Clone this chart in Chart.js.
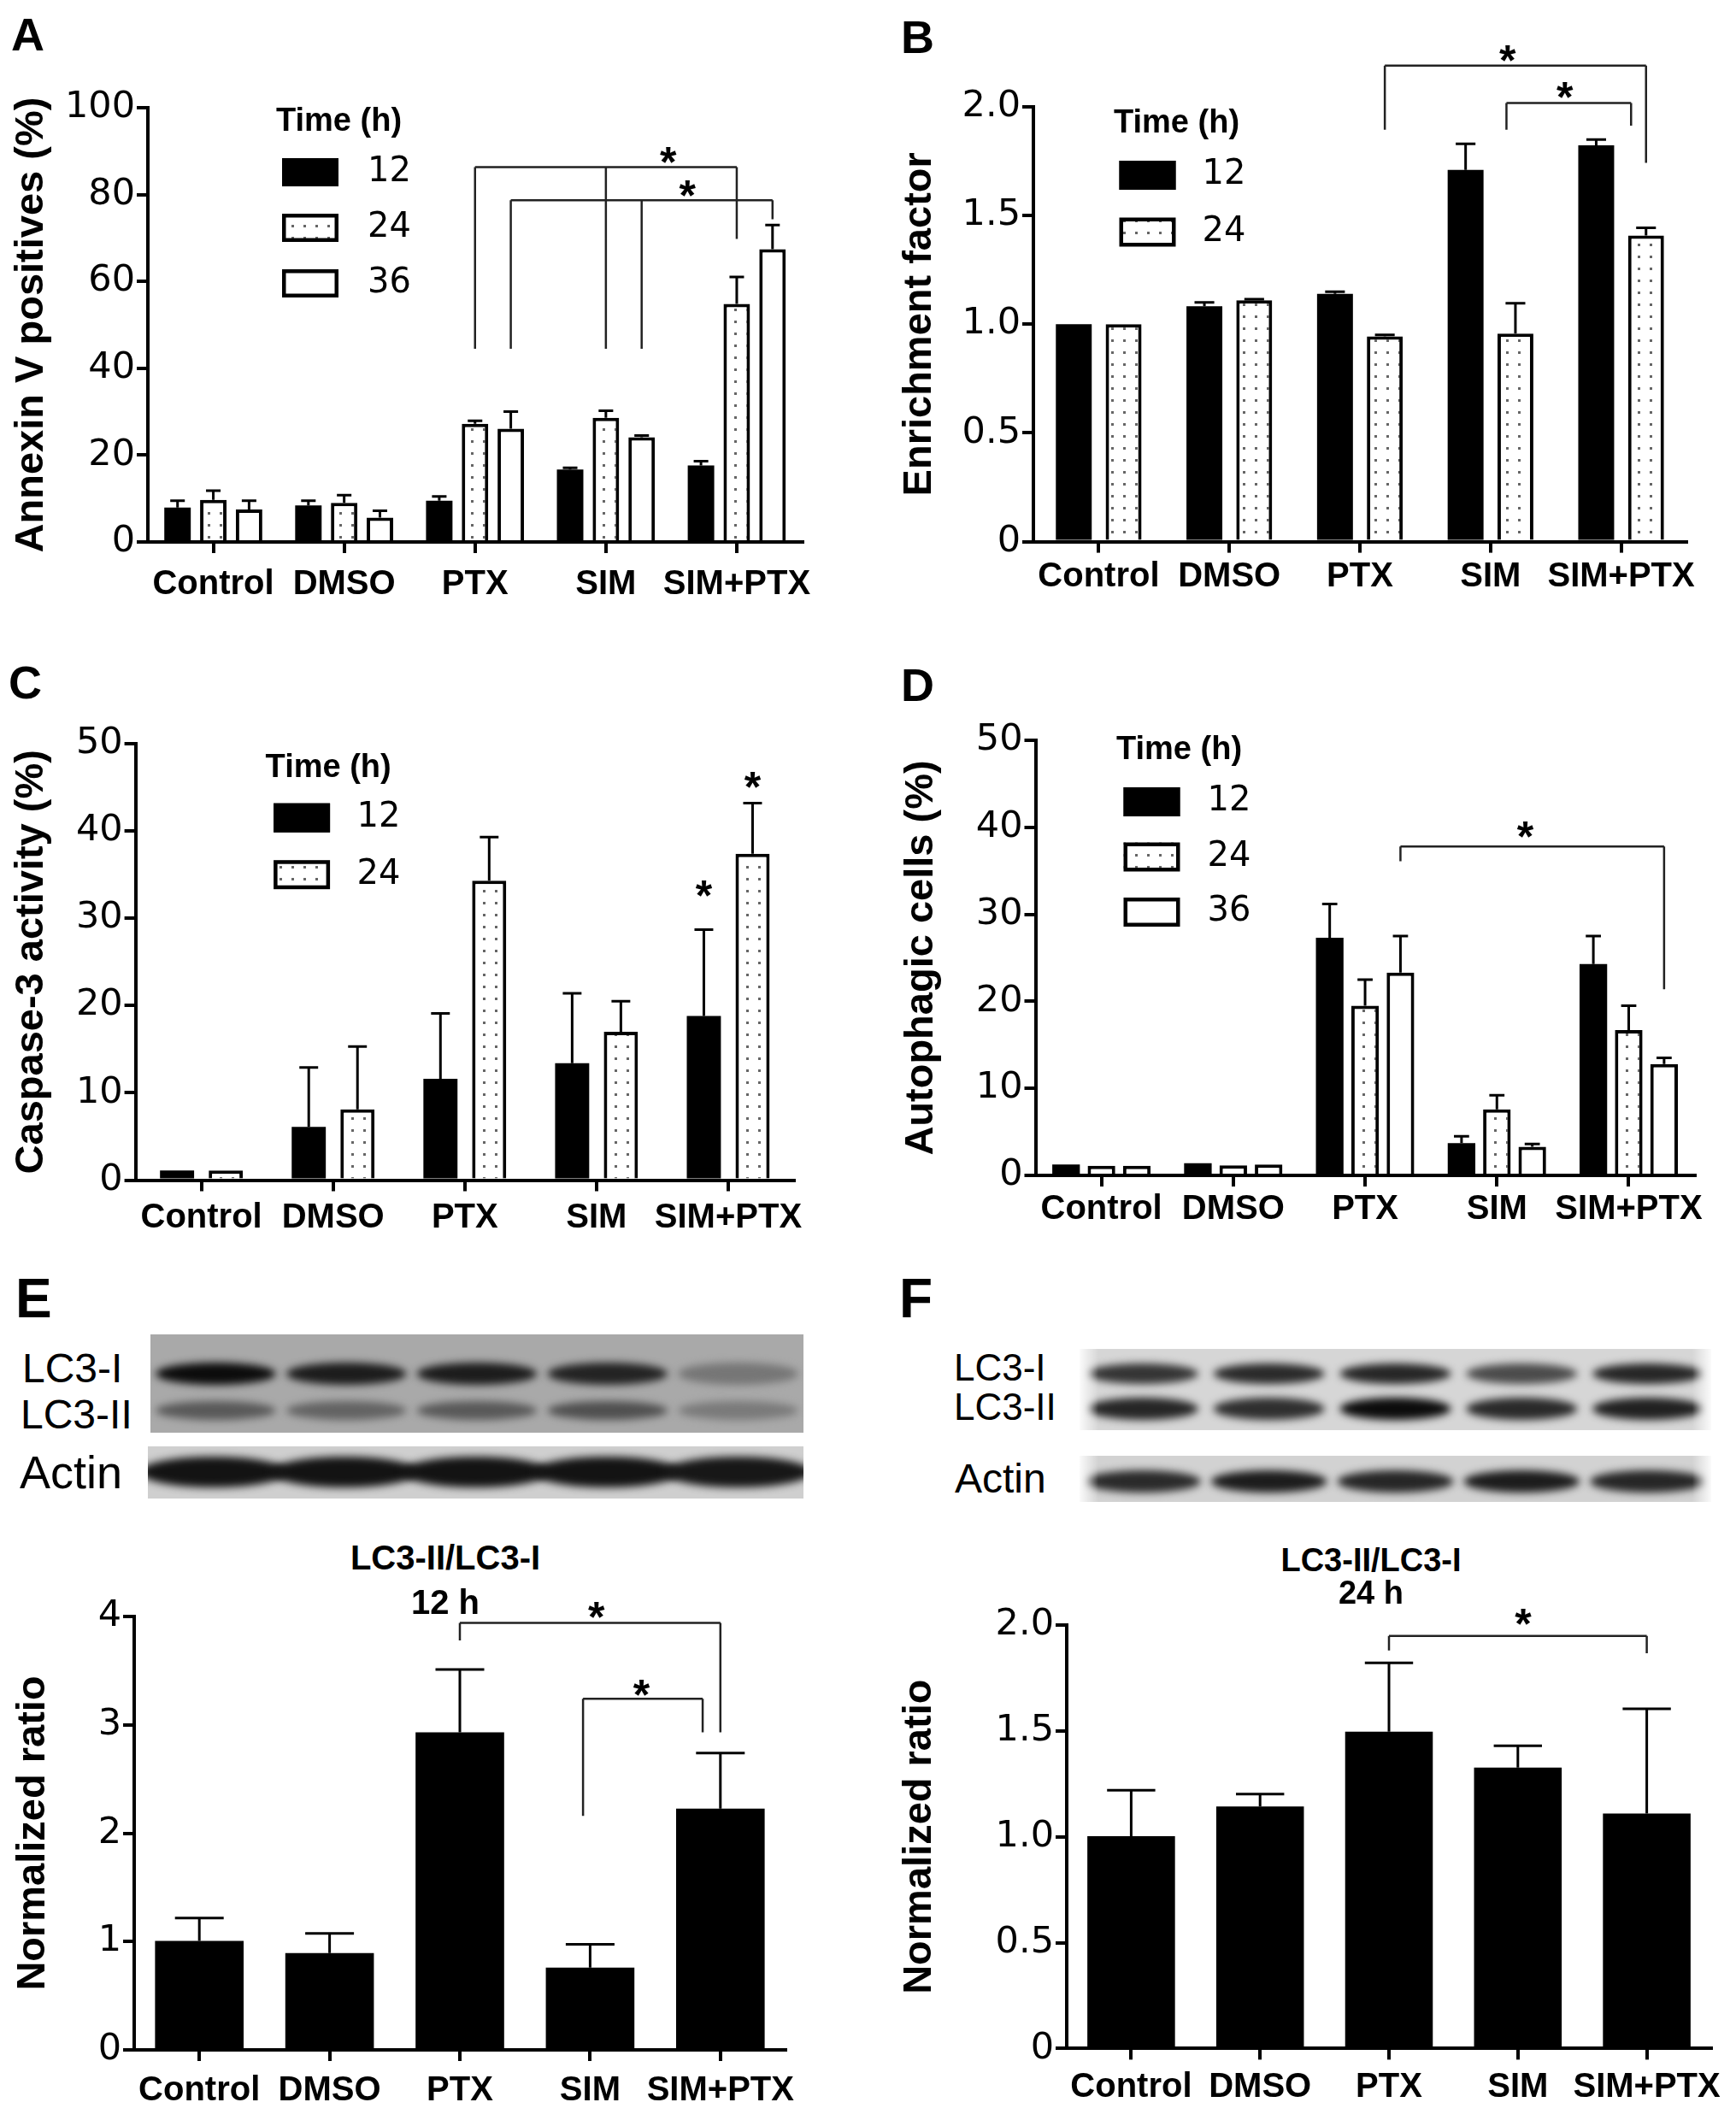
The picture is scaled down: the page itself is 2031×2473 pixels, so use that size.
<!DOCTYPE html>
<html>
<head>
<meta charset="utf-8">
<script src="https://cdn.jsdelivr.net/npm/chart.js@4.4.1/dist/chart.umd.min.js"></script>
<style>
body { margin: 0; background: #fff; }
#fig { position: relative; width: 2031px; height: 2473px; overflow: hidden; background: #fff; }
canvas { position: absolute; }
.lbl { position: absolute; line-height: 1; white-space: nowrap; color: #000; font-family: 'Liberation Sans', Arial, sans-serif; }
.panel { font-weight: bold; font-size: 54px; }
.panel2 { font-weight: bold; font-size: 64px; }
.sub { font-weight: bold; width: 400px; text-align: center; }
</style>
</head>
<body>
<div id="fig">
  <div class="lbl panel" style="left:13px;top:13px">A</div>
  <div class="lbl panel" style="left:1054px;top:16px">B</div>
  <div class="lbl panel" style="left:10px;top:771px">C</div>
  <div class="lbl panel" style="left:1054px;top:774px">D</div>
  <div class="lbl panel2" style="left:18px;top:1487px">E</div>
  <div class="lbl panel2" style="left:1052px;top:1487px">F</div>

  <canvas id="chartA" width="1000" height="650" style="left:0;top:90px"></canvas>
  <canvas id="chartB" width="1016" height="740" style="left:1015px;top:0"></canvas>
  <canvas id="chartC" width="1000" height="640" style="left:0;top:840px"></canvas>
  <canvas id="chartD" width="1016" height="640" style="left:1015px;top:840px"></canvas>
  <canvas id="chartE" width="1000" height="613" style="left:0;top:1860px"></canvas>
  <canvas id="chartF" width="1016" height="613" style="left:1015px;top:1860px"></canvas>

  <canvas id="blotE1" width="764" height="115" style="left:176px;top:1561px"></canvas>
  <canvas id="blotE2" width="767" height="61" style="left:173px;top:1692px"></canvas>
  <canvas id="blotF1" width="739" height="95" style="left:1263px;top:1578px"></canvas>
  <canvas id="blotF2" width="739" height="54" style="left:1263px;top:1703px"></canvas>

  <div class="lbl" style="left:26px;top:1577px;font-size:48px">LC3-I</div>
  <div class="lbl" style="left:24px;top:1631px;font-size:48px">LC3-II</div>
  <div class="lbl" style="left:23px;top:1695px;font-size:54px">Actin</div>
  <div class="lbl" style="left:1116px;top:1578px;font-size:44px">LC3-I</div>
  <div class="lbl" style="left:1116px;top:1624px;font-size:44px">LC3-II</div>
  <div class="lbl" style="left:1117px;top:1706px;font-size:48px">Actin</div>

  <div class="lbl sub" style="left:321px;top:1802px;font-size:40px">LC3-II/LC3-I</div>
  <div class="lbl sub" style="left:321px;top:1854px;font-size:40px">12 h</div>
  <div class="lbl sub" style="left:1404px;top:1806px;font-size:38px">LC3-II/LC3-I</div>
  <div class="lbl sub" style="left:1404px;top:1844px;font-size:38px">24 h</div>
</div>
<script>
const categories = ['Control', 'DMSO', 'PTX', 'SIM', 'SIM+PTX'];
const timeLabels = ['12', '24', '36'];
const legendTitle = 'Time (h)';

// A - Annexin V positives (%)
const annexin12 = [7.9, 8.4, 9.5, 16.7, 17.6];
const annexin24 = [9.7, 9.0, 27.2, 28.6, 54.8];
const annexin36 = [7.5, 5.6, 26.1, 24.1, 67.4];
const annexin12Err = [9.5, 9.5, 10.5, 17.1, 18.6];
const annexin24Err = [11.8, 10.8, 27.9, 30.2, 61.0];
const annexin36Err = [9.5, 7.2, 30.0, 24.5, 73.0];
const ticksA = ['0', '20', '40', '60', '80', '100'];

// B - Enrichment factor
const enrich12 = [1.0, 1.083, 1.14, 1.71, 1.823];
const enrich24 = [1.0, 1.11, 0.944, 0.957, 1.408];
const enrich12Err = [null, 1.10, 1.15, 1.83, 1.85];
const enrich24Err = [null, 1.115, 0.951, 1.097, 1.444];
const ticksB = ['0', '0.5', '1.0', '1.5', '2.0'];

// C - Caspase-3 activity (%)
const caspase12 = [1.1, 6.1, 11.6, 13.4, 18.8];
const caspase24 = [1.1, 8.1, 34.3, 17.0, 37.4];
const caspase12Err = [null, 12.9, 19.1, 21.4, 28.7];
const caspase24Err = [null, 15.3, 39.3, 20.5, 43.2];
const ticksC = ['0', '10', '20', '30', '40', '50'];

// D - Autophagic cells (%)
const autophagic12 = [1.25, 1.4, 27.3, 3.7, 24.3];
const autophagic24 = [1.1, 1.15, 19.5, 7.6, 16.7];
const autophagic36 = [1.1, 1.25, 23.3, 3.3, 12.8];
const autophagic12Err = [null, null, 31.2, 4.5, 27.5];
const autophagic24Err = [null, null, 22.5, 9.2, 19.5];
const autophagic36Err = [null, null, 27.5, 3.6, 13.5];
const ticksD = ['0', '10', '20', '30', '40', '50'];

// E - LC3-II/LC3-I 12 h
const ratio12h = [1.005, 0.894, 2.93, 0.759, 2.226];
const ratio12hErr = [1.216, 1.075, 3.51, 0.975, 2.739];
const ticksE = ['0', '1', '2', '3', '4'];

// F - LC3-II/LC3-I 24 h
const ratio24h = [1.003, 1.143, 1.496, 1.327, 1.11];
const ratio24hErr = [1.22, 1.202, 1.821, 1.43, 1.604];
const ticksF = ['0', '0.5', '1.0', '1.5', '2.0'];

// significance marks: legs are [category, bar offset, bottom value], star is [category, bar offset, value]
const bracketsA = [
  { y: 86.3, legs: [[2, 0, 44.5], [3, 0, 44.5], [4, 0, 69.8]], star: [3, 1.74, 89.6] },
  { y: 78.7, legs: [[2, 1, 44.5], [3, 1, 44.5], [4, 1, 74.3]], star: [3, 2.28, 81.8] }
];
const bracketsB = [
  { y: 2.19, legs: [[2, 0.5, 1.895], [4, 0.5, 1.742]], star: [3, 0.34, 2.256] },
  { y: 2.018, legs: [[3, 0.32, 1.895], [4, 0.2, 1.913]], star: [3, 1.49, 2.085] }
];
const starsC = [[4, -0.5, 33.6], [4, 0.5, 46.1]];
const bracketsD = [
  { y: 37.8, legs: [[2, 1, 36.1], [4, 1, 21.4]], star: [3, 0.8, 40] }
];
const bracketsE = [
  { y: 3.94, legs: [[2, 0, 3.78], [4, 0, 2.93]], star: [3, 0.07, 4.08] },
  { y: 3.24, legs: [[3, -0.08, 2.16], [4, -0.2, 2.93]], star: [3, 0.58, 3.36] }
];
const bracketsF = [
  { y: 1.949, legs: [[2, 0, 1.88], [4, 0, 1.867]], star: [3, 0.06, 2.05] }
];

// band strength per lane for the blot pictures
const bandsE_LC3I = [0.95, 0.88, 0.88, 0.85, 0.5];
const bandsE_LC3II = [0.62, 0.58, 0.62, 0.66, 0.48];
const bandsE_actin = [0.92, 0.92, 0.92, 0.92, 0.9];
const bandsF_LC3I = [0.78, 0.82, 0.84, 0.68, 0.84];
const bandsF_LC3II = [0.84, 0.8, 0.95, 0.82, 0.86];
const bandsF_actin = [0.82, 0.88, 0.84, 0.88, 0.84];

const SANS = "'Liberation Sans', Arial, sans-serif";
const TICKFONT = "'DejaVu Sans', sans-serif";

function dotPattern(ctx) {
  const t = document.createElement('canvas');
  t.width = 14; t.height = 14;
  const g = t.getContext('2d');
  g.fillStyle = '#fff';
  g.fillRect(0, 0, 14, 14);
  g.fillStyle = '#666';
  g.fillRect(5, 5, 3, 3);
  return ctx.createPattern(t, 'repeat');
}

const errorBarPlugin = {
  id: 'errorBars',
  afterDatasetsDraw(chart) {
    const ctx = chart.ctx, ys = chart.scales.y;
    chart.data.datasets.forEach((ds, di) => {
      chart.getDatasetMeta(di).data.forEach((bar, i) => {
        const e = ds.errorBars ? ds.errorBars[i] : null;
        if (e == null) return;
        const top = ys.getPixelForValue(e);
        const cap = bar.width * 0.55;
        ctx.save();
        ctx.strokeStyle = '#000';
        ctx.lineWidth = 3;
        ctx.beginPath();
        ctx.moveTo(bar.x, bar.y);
        ctx.lineTo(bar.x, top);
        ctx.moveTo(bar.x - cap / 2, top);
        ctx.lineTo(bar.x + cap / 2, top);
        ctx.stroke();
        ctx.restore();
      });
    });
  }
};

function sigPlugin(brackets, stars) {
  return {
    id: 'sigMarks',
    afterDatasetsDraw(chart) {
      const ctx = chart.ctx, xs = chart.scales.x, ys = chart.scales.y;
      const m0 = chart.getDatasetMeta(0).data;
      const pitch = chart.data.datasets.length > 1
        ? chart.getDatasetMeta(1).data[0].x - m0[0].x
        : m0[0].width;
      const px = (c, p) => xs.getPixelForValue(c) + p * pitch;
      const star = s => {
        ctx.font = 'bold 50px ' + SANS;
        ctx.textAlign = 'center';
        ctx.textBaseline = 'alphabetic';
        ctx.fillStyle = '#000';
        ctx.fillText('*', px(s[0], s[1]), ys.getPixelForValue(s[2]) + 28);
      };
      ctx.save();
      ctx.strokeStyle = '#222';
      ctx.lineWidth = 2.5;
      brackets.forEach(b => {
        const yy = ys.getPixelForValue(b.y);
        const xx = b.legs.map(l => px(l[0], l[1]));
        ctx.beginPath();
        ctx.moveTo(Math.min(...xx), yy);
        ctx.lineTo(Math.max(...xx), yy);
        b.legs.forEach((l, k) => {
          ctx.moveTo(xx[k], yy);
          ctx.lineTo(xx[k], ys.getPixelForValue(l[2]));
        });
        ctx.stroke();
        star(b.star);
      });
      stars.forEach(star);
      ctx.restore();
    }
  };
}

function legendPlugin(L) {
  return {
    id: 'timeLegend',
    afterDraw(chart) {
      const ca = chart.chartArea, ctx = chart.ctx;
      ctx.save();
      ctx.textAlign = 'left';
      ctx.textBaseline = 'middle';
      ctx.fillStyle = '#000';
      ctx.font = 'bold 38px ' + SANS;
      ctx.fillText(legendTitle, ca.left + L.titleX, ca.top + L.titleY);
      chart.data.datasets.forEach((ds, i) => {
        const bx = ca.left + L.boxX, by = ca.top + L.boxY + i * L.gap;
        ctx.fillStyle = ds.backgroundColor;
        ctx.fillRect(bx, by, 66, L.boxH);
        ctx.strokeStyle = '#000';
        ctx.lineWidth = 4.5;
        ctx.strokeRect(bx + 2.25, by + 2.25, 66 - 4.5, L.boxH - 4.5);
        ctx.fillStyle = '#000';
        ctx.font = '40px ' + TICKFONT;
        ctx.fillText(ds.label, ca.left + L.labelX, by + L.boxH / 2);
      });
      ctx.restore();
    }
  };
}

function barChart(id, o) {
  const ctx = document.getElementById(id).getContext('2d');
  const fills = { solid: '#000', dots: dotPattern(ctx), open: '#fff' };
  const plugins = [errorBarPlugin, sigPlugin(o.brackets || [], o.stars || [])];
  if (o.legend) plugins.push(legendPlugin(o.legend));
  return new Chart(ctx, {
    type: 'bar',
    data: {
      labels: categories,
      datasets: o.series.map(s => ({
        label: s.label,
        data: s.data,
        errorBars: s.err,
        backgroundColor: fills[s.style],
        borderColor: '#000',
        borderWidth: s.style === 'solid' ? 0 : 4,
        categoryPercentage: o.catPct,
        barPercentage: o.barPct
      }))
    },
    options: {
      responsive: false,
      animation: false,
      devicePixelRatio: 1,
      layout: { padding: { top: o.box.top, right: o.box.right, left: 0, bottom: 0 } },
      plugins: { legend: { display: false }, tooltip: { enabled: false } },
      scales: {
        x: {
          z: 1,
          grid: { offset: false, drawOnChartArea: false, drawTicks: true, tickLength: 13, color: '#000', lineWidth: 4 },
          border: { display: true, color: '#000', width: 4 },
          ticks: { color: '#000', padding: o.box.xPad, maxRotation: 0, autoSkip: false,
                   font: { family: SANS, weight: 'bold', size: 40 } },
          afterFit: s => { s.height = o.box.xH; s.paddingLeft = 0; s.paddingRight = 0; }
        },
        y: {
          z: 1,
          min: 0,
          max: o.yMax,
          ticks: { stepSize: o.yStep, color: '#000', padding: 2,
                   font: { family: TICKFONT, size: 43 },
                   callback: (v, i) => o.yLabels[i] },
          grid: { drawOnChartArea: false, drawTicks: true, tickLength: 13, color: '#000', lineWidth: 4 },
          border: { display: true, color: '#000', width: 4 },
          title: { display: true, text: o.yTitle, color: '#000',
                   font: { family: SANS, weight: 'bold', size: 47 },
                   padding: { top: o.box.titlePad, bottom: 0 } },
          afterFit: s => { s.width = o.box.yW; s.paddingTop = 0; s.paddingBottom = 0; }
        }
      }
    },
    plugins: plugins
  });
}

function drawBlot(id, bg, rows, edgeFade) {
  const c = document.getElementById(id), g = c.getContext('2d');
  const w = c.width, h = c.height, lane = w / 5;
  g.fillStyle = bg;
  g.fillRect(0, 0, w, h);
  g.filter = 'blur(5px)';
  rows.forEach(r => {
    r.levels.forEach((v, i) => {
      const shade = Math.round(235 * (1 - v));
      g.fillStyle = 'rgb(' + shade + ',' + shade + ',' + shade + ')';
      g.beginPath();
      g.ellipse(lane * (i + 0.5), r.y, lane * r.spread, r.h / 2, 0, 0, Math.PI * 2);
      g.fill();
    });
  });
  g.filter = 'none';
  if (edgeFade) {
    const lg = g.createLinearGradient(0, 0, w, 0);
    lg.addColorStop(0, 'rgba(255,255,255,0.9)');
    lg.addColorStop(0.03, 'rgba(255,255,255,0)');
    lg.addColorStop(0.97, 'rgba(255,255,255,0)');
    lg.addColorStop(1, 'rgba(255,255,255,0.9)');
    g.fillStyle = lg;
    g.fillRect(0, 0, w, h);
  }
}

barChart('chartA', {
  series: [
    { label: timeLabels[0], data: annexin12, err: annexin12Err, style: 'solid' },
    { label: timeLabels[1], data: annexin24, err: annexin24Err, style: 'dots' },
    { label: timeLabels[2], data: annexin36, err: annexin36Err, style: 'open' }
  ],
  yMax: 100, yStep: 20, yLabels: ticksA, yTitle: 'Annexin V positives (%)',
  catPct: 0.82, barPct: 0.74,
  box: { yW: 173, top: 36, right: 61.5, xH: 106, xPad: 13, titlePad: 9 },
  legend: { titleX: 150, titleY: 17, boxX: 157, boxY: 59, boxH: 33, gap: 65, labelX: 257 },
  brackets: bracketsA
});

barChart('chartB', {
  series: [
    { label: timeLabels[0], data: enrich12, err: enrich12Err, style: 'solid' },
    { label: timeLabels[1], data: enrich24, err: enrich24Err, style: 'dots' }
  ],
  yMax: 2, yStep: 0.5, yLabels: ticksB, yTitle: 'Enrichment factor',
  catPct: 0.763, barPct: 0.72,
  box: { yW: 194, top: 125, right: 58, xH: 106.4, xPad: 4, titlePad: 33 },
  legend: { titleX: 94, titleY: 19.6, boxX: 100.5, boxY: 63, boxH: 34, gap: 66.5, labelX: 197.6 },
  brackets: bracketsB
});

barChart('chartC', {
  series: [
    { label: timeLabels[0], data: caspase12, err: caspase12Err, style: 'solid' },
    { label: timeLabels[1], data: caspase24, err: caspase24Err, style: 'dots' }
  ],
  yMax: 50, yStep: 10, yLabels: ticksC, yTitle: 'Caspase-3 activity (%)',
  catPct: 0.74, barPct: 0.70,
  box: { yW: 158.6, top: 30, right: 71, xH: 99.5, xPad: 7, titlePad: 9 },
  legend: { titleX: 152, titleY: 28.4, boxX: 161.5, boxY: 69.7, boxH: 34, gap: 66.5, labelX: 259 },
  stars: starsC
});

barChart('chartD', {
  series: [
    { label: timeLabels[0], data: autophagic12, err: autophagic12Err, style: 'solid' },
    { label: timeLabels[1], data: autophagic24, err: autophagic24Err, style: 'dots' },
    { label: timeLabels[2], data: autophagic36, err: autophagic36Err, style: 'open' }
  ],
  yMax: 50, yStep: 10, yLabels: ticksD, yTitle: 'Autophagic cells (%)',
  catPct: 0.805, barPct: 0.78,
  box: { yW: 196.5, top: 26, right: 48.4, xH: 105, xPad: 3, titlePad: 35 },
  legend: { titleX: 94.5, titleY: 12, boxX: 103, boxY: 55, boxH: 34, gap: 64.5, labelX: 201 },
  brackets: bracketsD
});

barChart('chartE', {
  series: [{ label: '12 h', data: ratio12h, err: ratio12hErr, style: 'solid' }],
  yMax: 4, yStep: 1, yLabels: ticksE, yTitle: 'Normalized ratio',
  catPct: 1, barPct: 0.68,
  box: { yW: 157, top: 31, right: 81, xH: 75, xPad: 11, titlePad: 11 },
  brackets: bracketsE
});

barChart('chartF', {
  series: [{ label: '24 h', data: ratio24h, err: ratio24hErr, style: 'solid' }],
  yMax: 2, yStep: 0.5, yLabels: ticksF, yTitle: 'Normalized ratio',
  catPct: 1, barPct: 0.68,
  box: { yW: 233, top: 41, right: 29, xH: 76.6, xPad: 9, titlePad: 33 },
  brackets: bracketsF
});

drawBlot('blotE1', '#a9a9a9', [
  { y: 46, h: 26, spread: 0.46, levels: bandsE_LC3I },
  { y: 89, h: 22, spread: 0.46, levels: bandsE_LC3II }
], false);
drawBlot('blotE2', '#cfcfcf', [
  { y: 30, h: 36, spread: 0.56, levels: bandsE_actin }
], false);
drawBlot('blotF1', '#d6d6d6', [
  { y: 29, h: 24, spread: 0.44, levels: bandsF_LC3I },
  { y: 70, h: 26, spread: 0.44, levels: bandsF_LC3II }
], true);
drawBlot('blotF2', '#d2d2d2', [
  { y: 30, h: 26, spread: 0.46, levels: bandsF_actin }
], true);
</script>
</body>
</html>
